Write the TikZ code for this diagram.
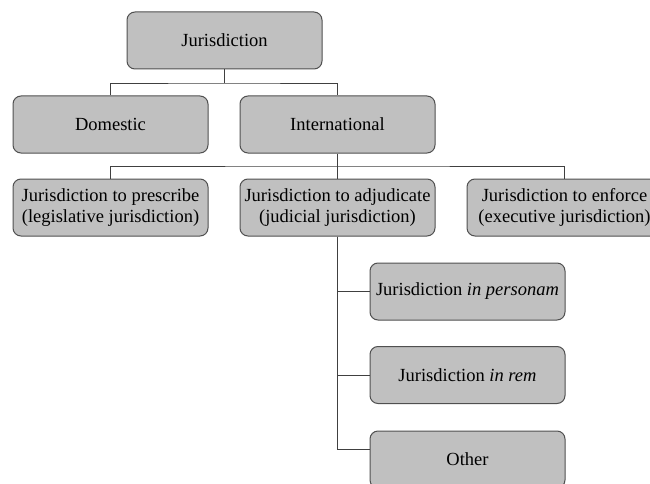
\documentclass[tikz,border=0pt]{standalone}
\usepackage{fontspec}
\setmainfont{Liberation Serif}
\definecolor{boxfill}{HTML}{C0C0C0}
\definecolor{boxline}{HTML}{505050}
\definecolor{lineclr}{HTML}{404040}
\begin{document}
\begin{tikzpicture}[x=1pt,y=-1pt,
  box/.style={draw=boxline, fill=boxfill, rounded corners=8pt, line width=1pt,
    minimum width=195pt, minimum height=57pt, align=center, inner sep=0pt,
    font=\fontsize{18.5}{21}\selectfont},
  conn/.style={draw=lineclr, line width=0.9pt}]
\clip (0,0) rectangle (650,484);
\fill[white] (0,0) rectangle (650,484);
\node[box] (root) at (224.5,40.5) {Jurisdiction};
\node[box] (dom) at (110.5,124.5) {Domestic};
\node[box] (intl) at (337.5,124.5) {International};
\node[box] (pres) at (110.5,207.5) {Jurisdiction to prescribe\\(legislative jurisdiction)};
\node[box] (adj) at (337.5,207.5) {Jurisdiction to adjudicate\\(judicial jurisdiction)};
\node[box] (enf) at (564.5,207.5) {Jurisdiction to enforce\\(executive jurisdiction)};
\node[box] (pers) at (467.5,291.5) {Jurisdiction \textit{in personam}};
\node[box] (rem) at (467.5,375) {Jurisdiction \textit{in rem}};
\node[box] (other) at (467.5,459.5) {Other};
\coordinate (j1) at (224.5,83);
\coordinate (j2) at (337.5,166);
\coordinate (j3) at (337.5,449);
\draw[conn] (root.south) -- (j1);
\draw[conn] (dom.north) |- (j1) -| (intl.north);
\draw[conn] (intl.south) -- (j2);
\draw[conn] (pres.north) |- (j2) -| (enf.north);
\draw[conn] (j2) -- (adj.north);
\draw[conn] (adj.south) -- (j3) -- (j3 -| other.west);
\draw[conn] (adj.south) |- (pers.west);
\draw[conn] (adj.south) |- (rem.west);
\end{tikzpicture}
\end{document}
